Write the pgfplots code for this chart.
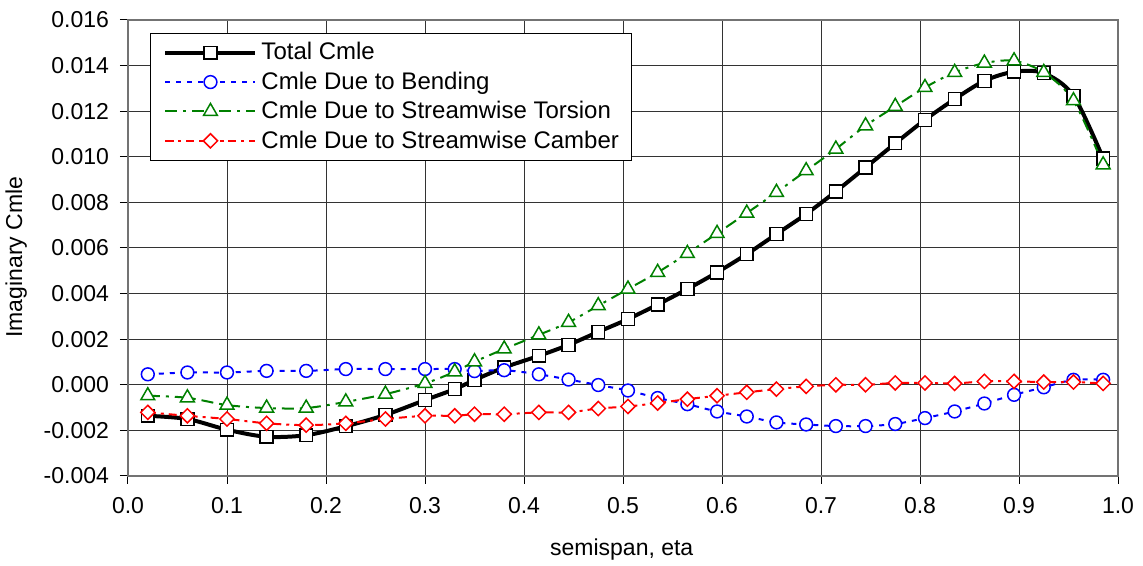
\documentclass[border=0pt]{standalone}
\usepackage{fontspec}
\setmainfont{Liberation Sans}
\usepackage{pgfplots}
\pgfplotsset{compat=1.18}
\definecolor{exblue}{RGB}{0,0,255}
\definecolor{exgreen}{RGB}{0,128,0}
\definecolor{exred}{RGB}{255,0,0}
\pgfplotstableread{
x total bend tors camb
0.02 -0.00136 0.00046 -0.00048 -0.00121
0.06 -0.00150 0.00054 -0.00057 -0.00136
0.10 -0.00197 0.00054 -0.00089 -0.00150
0.14 -0.00228 0.00061 -0.00102 -0.00169
0.18 -0.00221 0.00061 -0.00102 -0.00177
0.22 -0.00182 0.00069 -0.00075 -0.00169
0.26 -0.00132 0.00069 -0.00041 -0.00150
0.30 -0.00067 0.00069 0.00006 -0.00136
0.33 -0.00019 0.00069 0.00057 -0.00136
0.35 0.00021 0.00060 0.00101 -0.00129
0.38 0.00076 0.00064 0.00157 -0.00129
0.415 0.00127 0.00046 0.00219 -0.00121
0.445 0.00175 0.00023 0.00274 -0.00121
0.475 0.00232 -0.00001 0.00347 -0.00104
0.505 0.00288 -0.00025 0.00420 -0.00095
0.535 0.00352 -0.00058 0.00493 -0.00080
0.565 0.00420 -0.00085 0.00576 -0.00063
0.595 0.00493 -0.00117 0.00664 -0.00048
0.625 0.00573 -0.00139 0.00753 -0.00033
0.655 0.00661 -0.00165 0.00844 -0.00019
0.685 0.00749 -0.00174 0.00939 -0.00007
0.715 0.00848 -0.00181 0.01034 0.00000
0.745 0.00953 -0.00181 0.01136 0.00000
0.775 0.01059 -0.00172 0.01221 0.00008
0.805 0.01162 -0.00146 0.01304 0.00008
0.835 0.01253 -0.00117 0.01370 0.00006
0.865 0.01333 -0.00082 0.01411 0.00015
0.895 0.01373 -0.00044 0.01421 0.00015
0.925 0.01367 -0.00011 0.01370 0.00012
0.955 0.01268 0.00022 0.01246 0.00012
0.985 0.00993 0.00022 0.00965 0.00006
}\datatable
\begin{document}
\begin{tikzpicture}
\begin{axis}[
  at={(0pt,0pt)}, anchor=south west,
  scale only axis, width=495pt, height=228pt,
  xmin=0, xmax=1, ymin=-0.004, ymax=0.016,
  xtick={0,0.1,0.2,0.3,0.4,0.5,0.6,0.7,0.8,0.9,1.0},
  xticklabels={0.0,0.1,0.2,0.3,0.4,0.5,0.6,0.7,0.8,0.9,1.0},
  ytick={-0.004,-0.002,0,0.002,0.004,0.006,0.008,0.010,0.012,0.014,0.016},
  yticklabels={-0.004,-0.002,0.000,0.002,0.004,0.006,0.008,0.010,0.012,0.014,0.016},
  scaled y ticks=false,
  grid=major,
  grid style={black!80, line width=0.5pt},
  axis line style={black!55, line width=0.6pt},
  tick align=outside, major tick length=4pt,
  tick style={black, line width=0.5pt},
  xtick pos=left, ytick pos=left,
  font=\fontsize{11.5}{13.8}\selectfont,
  yticklabel style={anchor=east, xshift=-2pt},
  xticklabel style={anchor=north, yshift=-3pt},
  xlabel={semispan, eta},
  ylabel={Imaginary Cmle},
  every axis x label/.style={at={(axis description cs:0.4987,-0.162)}, anchor=center},
  every axis y label/.style={at={(axis description cs:-0.113,0.48)}, rotate=90, anchor=center},
  legend cell align=left,
  legend style={at={(axis description cs:0.0222,0.9715)}, anchor=north west,
    draw=black, line width=0.5pt, fill=white,
    font=\fontsize{12}{14.4}\selectfont,
    row sep=0.5pt, inner xsep=4.5pt, inner ysep=2.5pt,
    nodes={inner sep=2pt}},
  legend image code/.code={\path (0pt,0pt) -- (0pt,0pt);\draw[mark repeat=2,mark phase=2] plot coordinates {(2pt,0pt) (24.5pt,0pt) (47pt,0pt)};},
]
\addplot[black, line width=2pt, smooth,
  mark=square*, mark size=3.2pt, mark options={solid, fill=white, line width=0.75pt}]
  table[x=x, y=total] {\datatable};
\addplot[exblue, line width=1pt, dash pattern=on 2.5pt off 3pt, smooth,
  mark=*, mark size=3.2pt, mark options={solid, fill=white, line width=0.75pt}]
  table[x=x, y=bend] {\datatable};
\addplot[exgreen, line width=1pt, dash pattern=on 6pt off 3pt on 1.5pt off 3pt, smooth,
  mark=triangle*, mark size=4pt, mark options={solid, fill=white, line width=0.75pt}]
  table[x=x, y=tors] {\datatable};
\addplot[exred, line width=1pt, dash pattern=on 4pt off 2.5pt on 1.5pt off 2.5pt, smooth,
  mark=square*, mark size=2.5pt, mark options={solid, rotate=45, fill=white, line width=0.75pt}]
  table[x=x, y=camb] {\datatable};
\legend{Total Cmle, Cmle Due to Bending, Cmle Due to Streamwise Torsion, Cmle Due to Streamwise Camber}
\end{axis}
\pgfresetboundingbox
\path (-64pt,-45pt) rectangle (507.5pt,238pt);
\end{tikzpicture}
\end{document}
